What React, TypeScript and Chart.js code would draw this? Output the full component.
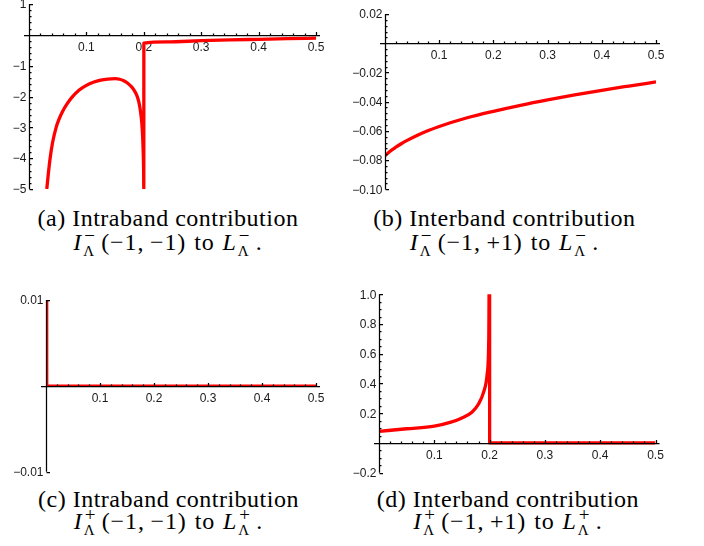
import React, { useEffect, useRef } from "react";
import { Chart, registerables } from "chart.js";

Chart.register(...registerables);

// ---------- shared x ticks ----------
const xTickValues = [0.1, 0.2, 0.3, 0.4, 0.5];
const xTickLabels = ["0.1", "0.2", "0.3", "0.4", "0.5"];

// ---------- panel (a) ----------
const aX = [0.031, 0.034, 0.0368, 0.041, 0.0473, 0.052, 0.058, 0.066, 0.0747, 0.087, 0.1, 0.112, 0.125, 0.137, 0.15, 0.158, 0.165, 0.172, 0.178, 0.183, 0.187, 0.191, 0.194, 0.1965, 0.198, 0.199, 0.1997, 0.2, 0.2001, 0.24, 0.3, 0.35, 0.4, 0.45, 0.5];
const aY = [-5, -4.45, -4, -3.5, -3, -2.75, -2.5, -2.25, -2.03, -1.8, -1.64, -1.54, -1.47, -1.435, -1.42, -1.44, -1.49, -1.57, -1.67, -1.79, -1.93, -2.15, -2.45, -2.85, -3.3, -3.8, -4.4, -5, -0.27, -0.23, -0.19, -0.165, -0.145, -0.125, -0.108];
const aYTicks = [1, -1, -2, -3, -4, -5];
const aYLabels = ["1", "\u22121", "\u22122", "\u22123", "\u22124", "\u22125"];

// ---------- panel (b) ----------
const bX = [0, 0.01, 0.02, 0.03, 0.04, 0.06, 0.08, 0.1, 0.15, 0.2, 0.25, 0.3, 0.35, 0.4, 0.45, 0.5];
const bY = [-0.077, -0.0738, -0.0712, -0.0688, -0.0667, -0.063, -0.0598, -0.057, -0.0512, -0.0466, -0.0425, -0.0388, -0.0354, -0.0322, -0.0293, -0.0265];
const bYTicks = [0.02, -0.02, -0.04, -0.06, -0.08, -0.1];
const bYLabels = ["0.02", "\u22120.02", "\u22120.04", "\u22120.06", "\u22120.08", "\u22120.10"];

// ---------- panel (c) ----------
const cX = [0.002, 0.0021, 0.5];
const cY = [0.012, 0, 0];
const cYTicks = [0.01, -0.01];
const cYLabels = ["0.01", "\u22120.01"];

// ---------- panel (d) ----------
const dX = [0, 0.05, 0.1, 0.13, 0.149, 0.168, 0.18, 0.189, 0.1955, 0.1985, 0.1995, 0.2, 0.2001, 0.5];
const dY = [0.078, 0.0956, 0.113, 0.14, 0.167, 0.207, 0.262, 0.34, 0.46, 0.7, 1.2, 1.2, 0, 0];
const dYTicks = [1.0, 0.8, 0.6, 0.4, 0.2, -0.2];
const dYLabels = ["1.0", "0.8", "0.6", "0.4", "0.2", "\u22120.2"];

// ---------- captions ----------
const captionLine1 = ["(a) Intraband contribution", "(b) Interband contribution", "(c) Intraband contribution", "(d) Interband contribution"];
const captionSign = ["\u2212", "\u2212", "+", "+"];
const captionArgs = ["(\u22121,\u2009\u22121)", "(\u22121,\u2009+1)", "(\u22121,\u2009\u22121)", "(\u22121,\u2009+1)"];

type Spec = {
  xs: number[];
  ys: number[];
  yMin: number;
  yMax: number;
  yTicks: number[];
  yLabels: string[];
  yMinor: number;
  lineWidth: number;
  left: number;
  top: number;
  width: number;
  height: number;
  pad: { left: number; right: number; top: number; bottom: number };
};

const XMINOR = 0.02;

function makeAxesPlugin(spec: Spec) {
  return {
    id: "mathAxes",
    beforeDatasetsDraw(chart: any) {
      const { ctx } = chart;
      const x = chart.scales.x;
      const y = chart.scales.y;
      const x0 = Math.round(x.getPixelForValue(0)) + 0.5;
      const y0 = Math.round(y.getPixelForValue(0)) + 0.5;
      ctx.save();
      ctx.font = '12px "Liberation Sans", Arial, sans-serif';
      ctx.fillStyle = "#1a1a1a";
      ctx.textBaseline = "alphabetic";
      ctx.textAlign = "center";
      xTickValues.forEach((v, i) => {
        ctx.fillText(xTickLabels[i], x.getPixelForValue(v), y0 + 15.5);
      });
      ctx.textAlign = "right";
      spec.yTicks.forEach((v, i) => {
        ctx.fillText(spec.yLabels[i], x0 - 3, y.getPixelForValue(v) + 4.3);
      });
      ctx.restore();
    },
    afterDatasetsDraw(chart: any) {
      const { ctx } = chart;
      const x = chart.scales.x;
      const y = chart.scales.y;
      const x0 = Math.round(x.getPixelForValue(0)) + 0.5;
      const y0 = Math.round(y.getPixelForValue(0)) + 0.5;
      ctx.save();
      ctx.strokeStyle = "#000";
      ctx.lineWidth = 1.25;
      ctx.beginPath();
      ctx.moveTo(x.left - 5, y0);
      ctx.lineTo(x.right + 4, y0);
      ctx.moveTo(x0, y.top);
      ctx.lineTo(x0, y.bottom);
      for (let k = 1; k <= 25; k++) {
        const v = k * XMINOR;
        const px = Math.round(x.getPixelForValue(v)) + 0.5;
        const major = k % 5 === 0;
        ctx.moveTo(px, y0);
        ctx.lineTo(px, y0 - (major ? 3.5 : 2));
      }
      spec.yTicks.forEach((v) => {
        const py = Math.round(y.getPixelForValue(v)) + 0.5;
        ctx.moveTo(x0, py);
        ctx.lineTo(x0 + 3.5, py);
      });
      if (spec.yMinor > 0) {
        const n = Math.round((spec.yMax - spec.yMin) / spec.yMinor);
        for (let k = 0; k <= n; k++) {
          const v = spec.yMin + k * spec.yMinor;
          if (Math.abs(v) < 1e-9) continue;
          const isMajor = spec.yTicks.some((t) => Math.abs(t - v) < 1e-9);
          if (isMajor) continue;
          const py = Math.round(y.getPixelForValue(v)) + 0.5;
          ctx.moveTo(x0, py);
          ctx.lineTo(x0 + 2, py);
        }
      }
      ctx.stroke();
      ctx.restore();
    },
  };
}

function Panel({ spec }: { spec: Spec }) {
  const ref = useRef<HTMLCanvasElement>(null);
  useEffect(() => {
    const canvas = ref.current!;
    const chart = new Chart(canvas, {
      type: "scatter",
      data: {
        datasets: [
          {
            data: spec.xs.map((xv, i) => ({ x: xv, y: spec.ys[i] })),
            showLine: true,
            borderColor: "#ff0000",
            backgroundColor: "#ff0000",
            borderWidth: spec.lineWidth,
            pointRadius: 0,
            cubicInterpolationMode: "monotone",
            clip: 0,
            borderJoinStyle: "round",
          } as any,
        ],
      },
      options: {
        responsive: false,
        maintainAspectRatio: false,
        animation: false,
        devicePixelRatio: 1,
        events: [],
        layout: { padding: spec.pad },
        scales: {
          x: { type: "linear", min: 0, max: 0.5, display: false },
          y: { type: "linear", min: spec.yMin, max: spec.yMax, display: false },
        },
        plugins: { legend: { display: false }, tooltip: { enabled: false } },
      },
      plugins: [makeAxesPlugin(spec)],
    });
    return () => chart.destroy();
  }, [spec]);
  return (
    <canvas
      ref={ref}
      width={spec.width}
      height={spec.height}
      style={{ position: "absolute", left: spec.left, top: spec.top, width: spec.width, height: spec.height }}
    />
  );
}

const specA: Spec = { xs: aX, ys: aY, yMin: -5, yMax: 1, yTicks: aYTicks, yLabels: aYLabels, yMinor: 0.2, lineWidth: 3.3, left: 0, top: 0, width: 340, height: 200, pad: { left: 29, right: 24, top: 4, bottom: 11 } };
const specB: Spec = { xs: bX, ys: bY, yMin: -0.1, yMax: 0.02, yTicks: bYTicks, yLabels: bYLabels, yMinor: 0.004, lineWidth: 3.3, left: 340, top: 0, width: 364, height: 200, pad: { left: 45, right: 48, top: 14, bottom: 10.7 } };
const specC: Spec = { xs: cX, ys: cY, yMin: -0.01, yMax: 0.01, yTicks: cYTicks, yLabels: cYLabels, yMinor: 0, lineWidth: 2.5, left: 0, top: 280, width: 340, height: 200, pad: { left: 46, right: 24, top: 20, bottom: 8.3 } };
const specD: Spec = { xs: dX, ys: dY, yMin: -0.2, yMax: 1.0, yTicks: dYTicks, yLabels: dYLabels, yMinor: 0.05, lineWidth: 3.3, left: 340, top: 280, width: 364, height: 200, pad: { left: 39, right: 48.5, top: 14.3, bottom: 7.3 } };

const SERIF = '"Liberation Serif", "Times New Roman", serif';
const FS = 24;

function baselineTop(baseline: number, fs: number) {
  return baseline - ((fs - fs * 1.107) / 2 + fs * 0.891);
}

function SupSub({ sup, sub }: { sup: string; sub: string }) {
  return (
    <span style={{ display: "inline-block", position: "relative", width: 19, height: 0 }}>
      <span style={{ position: "absolute", left: 2, bottom: 5, fontSize: 19, lineHeight: "19px", fontStyle: "normal", letterSpacing: 0 }}>{sup}</span>
      <span style={{ position: "absolute", left: 1, top: -6, fontSize: 15, lineHeight: "15px", fontStyle: "normal", letterSpacing: 0 }}>{sub}</span>
    </span>
  );
}

function Caption({ idx, cx, b1, b2 }: { idx: number; cx: number; b1: number; b2: number }) {
  const common: React.CSSProperties = {
    position: "absolute",
    left: cx - 170,
    width: 340,
    textAlign: "center",
    fontFamily: SERIF,
    fontSize: FS,
    lineHeight: FS + "px",
    whiteSpace: "pre",
    color: "#000",
  };
  return (
    <>
      <div style={{ ...common, top: baselineTop(b1, FS), letterSpacing: "0.5px" }}>{captionLine1[idx]}</div>
      <div style={{ ...common, top: baselineTop(b2, FS), letterSpacing: "0.9px", wordSpacing: "1px" }}>
        <i>I</i>
        <SupSub sup={captionSign[idx]} sub={"\u039b"} />
        {captionArgs[idx]}
        {" to "}
        <i>L</i>
        <SupSub sup={captionSign[idx]} sub={"\u039b"} />
        {"."}
      </div>
    </>
  );
}

export default function App() {
  return (
    <div style={{ position: "fixed", left: 0, top: 0, width: 704, height: 546, background: "#fff", overflow: "hidden" }}>
      <Panel spec={specA} />
      <Panel spec={specB} />
      <Panel spec={specC} />
      <Panel spec={specD} />
      <Caption idx={0} cx={168} b1={226} b2={250} />
      <Caption idx={1} cx={504.5} b1={226} b2={250} />
      <Caption idx={2} cx={168.5} b1={507} b2={529} />
      <Caption idx={3} cx={508} b1={507} b2={529} />
    </div>
  );
}
